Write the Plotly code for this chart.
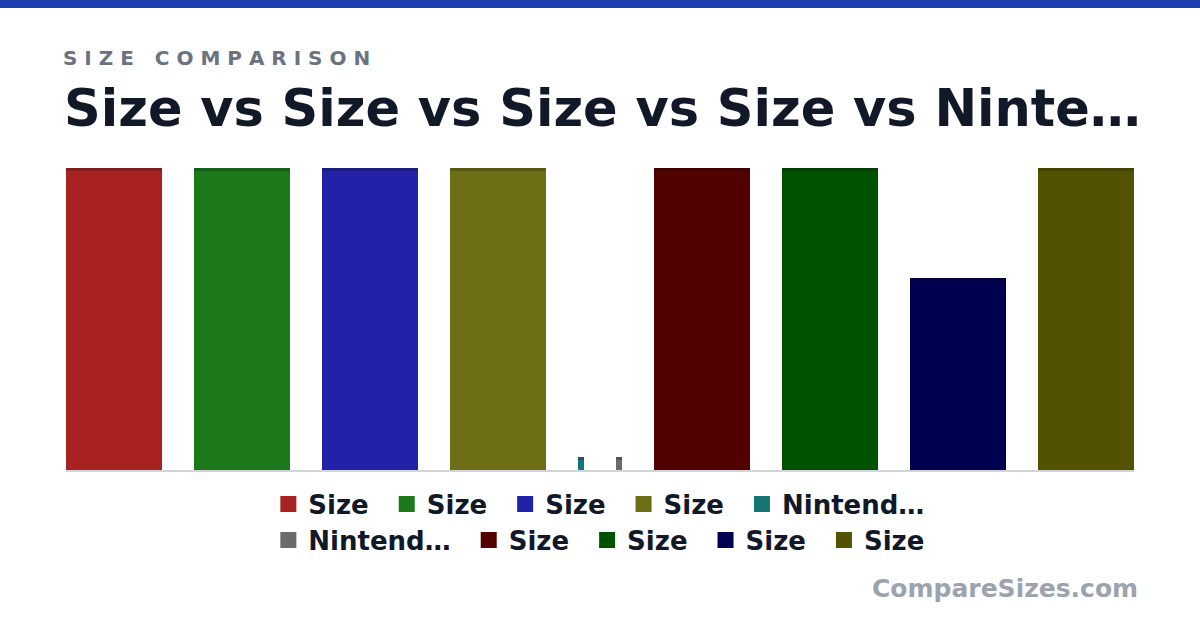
import plotly.graph_objects as go

# items in the order they are drawn, left to right
names = ['Size', 'Size', 'Size', 'Size', 'Nintend…', 'Nintend…', 'Size', 'Size', 'Size', 'Size']
heights = [1.0, 1.0, 1.0, 1.0, 0.043, 0.043, 1.0, 1.0, 0.636, 1.0]
widths = [1.0, 1.0, 1.0, 1.0, 0.0625, 0.0625, 1.0, 1.0, 1.0, 1.0]
colors = ['#A82222', '#1B781B', '#2222A8', '#6E6E16', '#177575',
          '#6B6B6B', '#520000', '#005200', '#000052', '#525200']

TITLE = 'Size vs Size vs Size vs Size vs Ninte…'
KICKER = 'SIZE COMPARISON'
BRAND = 'CompareSizes.com'

GAP = 1 / 3
STRIP = 0.01
FONT = 'DejaVu Sans'


def darken(hex_color: str, f: float = 0.8) -> str:
    r, g, b = (int(hex_color[i:i + 2], 16) for i in (1, 3, 5))
    return f'rgb({int(r * f)},{int(g * f)},{int(b * f)})'


def spaced(text: str) -> str:
    # fake letter-spacing: space between letters, wider between words
    return '   '.join(' '.join(word) for word in text.split())


# bar centres from widths + constant gap
centres = []
pos = 0.0
for w in widths:
    centres.append(pos + w / 2)
    pos += w + GAP
total = pos - GAP

fig = go.Figure()
fig.add_bar(
    x=centres, y=heights, width=widths,
    marker={'color': colors, 'line': {'width': 0}},
    showlegend=False, hoverinfo='skip',
)
# darker strip on top of each bar
fig.add_bar(
    x=centres, y=[STRIP] * len(heights), base=[h - STRIP for h in heights], width=widths,
    marker={'color': [darken(c) for c in colors], 'line': {'width': 0}},
    showlegend=False, hoverinfo='skip',
)

# legend entries, split over two rows (en space pads the gap between entries)
for i, (name, color) in enumerate(zip(names, colors)):
    fig.add_scatter(
        x=[None], y=[None], mode='markers', name=name + '\u2002',
        marker={'symbol': 'square', 'size': 16, 'color': color},
        legend='legend' if i < 5 else 'legend2',
    )

legend_style = dict(
    orientation='h', xanchor='center', x=0.505, yanchor='middle',
    font={'family': FONT, 'size': 26, 'color': '#111827', 'weight': 'bold'},
    itemsizing='trace', bgcolor='rgba(0,0,0,0)', traceorder='normal',
)

fig.update_layout(
    width=1200, height=630,
    margin={'l': 66, 'r': 66, 't': 168, 'b': 160},
    paper_bgcolor='white', plot_bgcolor='white',
    barmode='overlay', bargap=0,
    title={
        'text': TITLE, 'xref': 'container', 'yref': 'container',
        'x': 64 / 1200, 'xanchor': 'left', 'y': 1 - 108 / 630, 'yanchor': 'middle',
        'font': {'family': FONT, 'size': 51, 'color': '#111827', 'weight': 'bold'},
    },
    legend={**legend_style, 'y': (470 - 504) / 302},
    legend2={**legend_style, 'y': (470 - 540) / 302},
    xaxis={
        'range': [0, total], 'showticklabels': False, 'showgrid': False,
        'zeroline': False, 'showline': True, 'linecolor': '#D1D5DB', 'linewidth': 2,
        'fixedrange': True,
    },
    yaxis={'range': [0, 1], 'visible': False, 'fixedrange': True},
    showlegend=True,
)

fig.add_shape(
    type='rect', xref='paper', yref='paper',
    x0=-66 / 1068, x1=1 + 66 / 1068, y0=(470 - 8) / 302, y1=470 / 302,
    fillcolor='#1E40AF', line={'width': 0},
)
fig.add_annotation(
    text=spaced(KICKER), xref='paper', yref='paper',
    x=(61 - 66) / 1068, xanchor='left', y=(470 - 58) / 302, yanchor='middle',
    showarrow=False,
    font={'family': FONT, 'size': 20, 'color': '#6B7280', 'weight': 'bold'},
)
fig.add_annotation(
    text=BRAND, xref='paper', yref='paper',
    x=(1140 - 66) / 1068, xanchor='right', y=(470 - 588) / 302, yanchor='middle',
    showarrow=False,
    font={'family': FONT, 'size': 25, 'color': '#9CA3AF', 'weight': 'bold'},
)

fig.write_html(
    'out.html',
    config={'displayModeBar': False},
    post_script="document.body.style.margin='0';",
)
